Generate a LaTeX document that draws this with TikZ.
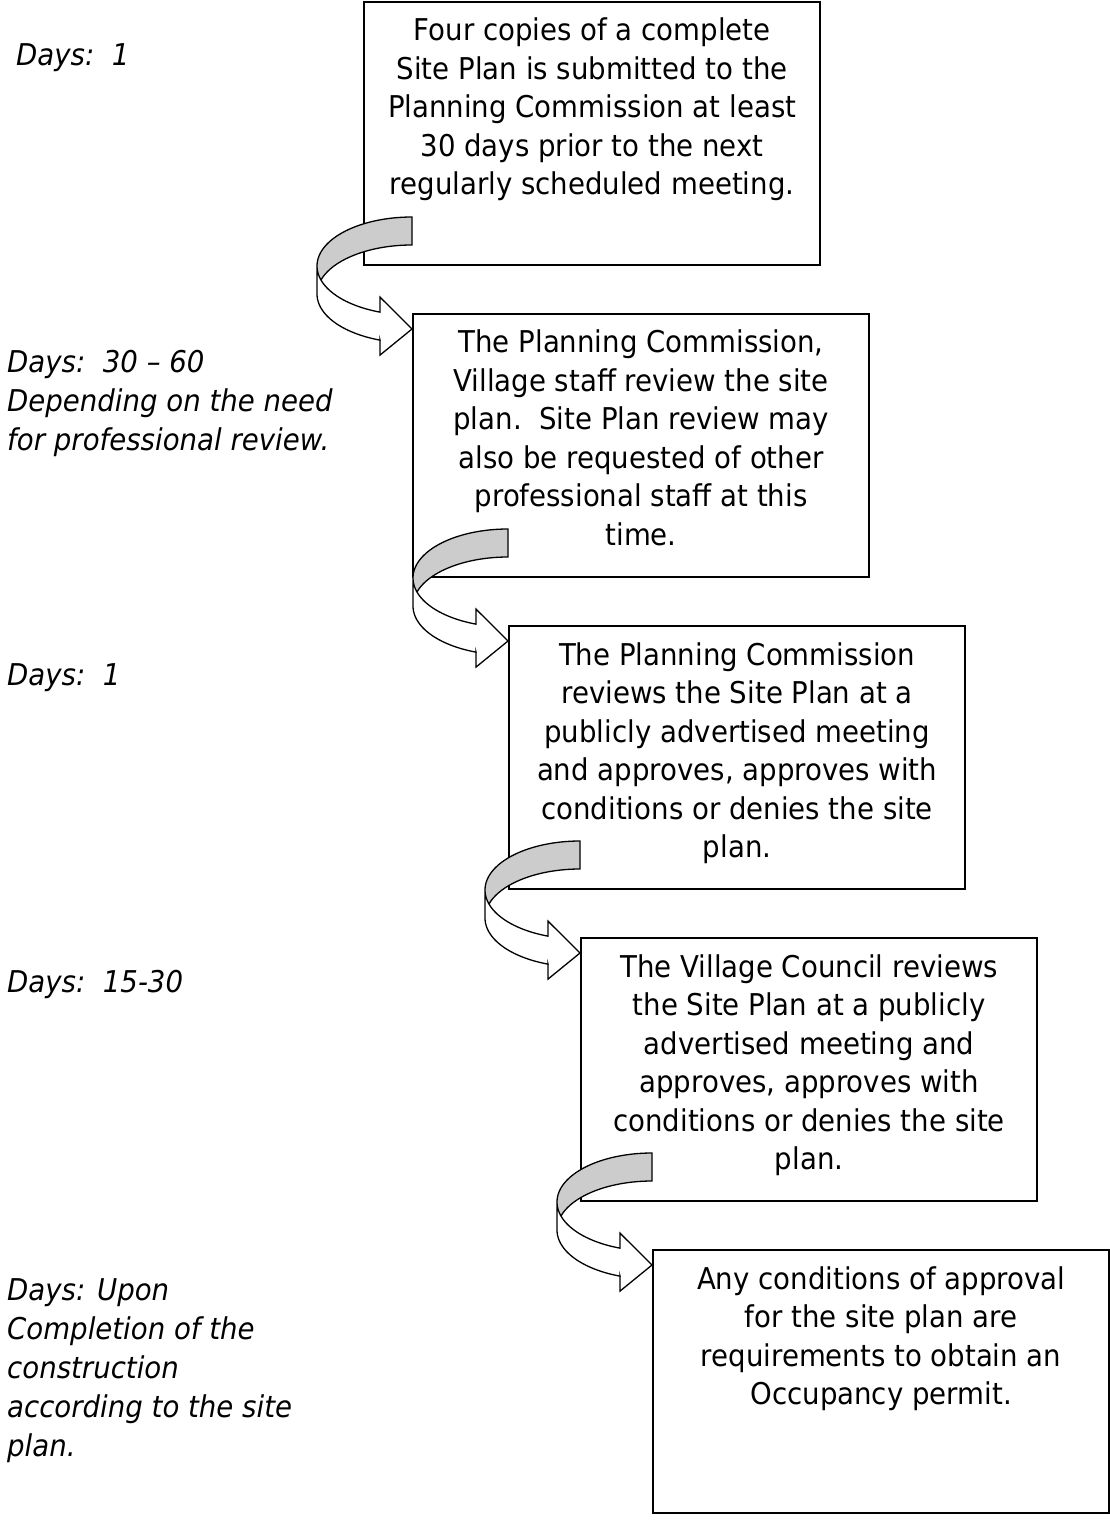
\documentclass[tikz,border=0pt]{standalone}
\usepackage{fontspec}
\setmainfont{DejaVu Sans}[FakeStretch=0.92]
\definecolor{band}{RGB}{204,204,204}
\tikzset{
  box/.style={draw, line width=2.2pt, fill=white, minimum width=456pt, minimum height=263pt, inner sep=0pt, anchor=north west},
  txt/.style={anchor=north, inner sep=0pt, align=center, font=\fontsize{30}{38.5}\selectfont},
  lbl/.style={anchor=north west, inner sep=0pt, align=left, font=\fontsize{30}{39}\selectfont\itshape},
  arrowline/.style={line width=1.3pt, line join=miter},
}
% #1 = right x of the curved arrow, #2 = top y (y grows downwards)
\newcommand\curvedarrowshape[2]{%
  \fill[white] plot[domain=180:109.68, samples=40, variable=\t] ({#1+95*cos(\t)},{#2+49+49*sin(\t)})
    -- (#1-32,#2+80.1) -- (#1,#2+112) -- (#1-32,#2+138.1) -- (#1-32,#2+123.1)
    -- plot[domain=109.68:180, samples=40, variable=\t] ({#1+95*cos(\t)},{#2+77+49*sin(\t)}) -- cycle;
  \fill[band] plot[domain=270:163.4, samples=50, variable=\t] ({#1+95*cos(\t)},{#2+49+49*sin(\t)})
    -- plot[domain=196.6:270, samples=50, variable=\t] ({#1+95*cos(\t)},{#2+77+49*sin(\t)}) -- cycle;
  \draw[arrowline] plot[domain=180:109.68, samples=40, variable=\t] ({#1+95*cos(\t)},{#2+49+49*sin(\t)})
    -- (#1-32,#2+80.1) -- (#1,#2+112) -- (#1-32,#2+138.1) -- (#1-32,#2+123.1)
    -- plot[domain=109.68:180, samples=40, variable=\t] ({#1+95*cos(\t)},{#2+77+49*sin(\t)}) -- cycle;
  \draw[arrowline] plot[domain=180:270, samples=50, variable=\t] ({#1+95*cos(\t)},{#2+49+49*sin(\t)})
    -- (#1,#2+28)
    -- plot[domain=270:196.6, samples=50, variable=\t] ({#1+95*cos(\t)},{#2+77+49*sin(\t)});
}
\begin{document}
\begin{tikzpicture}[x=1pt, y=-1pt]
  \useasboundingbox[fill=white] (0,0) rectangle (1110,1522);

  % boxes
  \node[box] (b1) at (363,1) {};
  \node[box] (b2) at (412,313) {};
  \node[box] (b3) at (508,625) {};
  \node[box] (b4) at (580,937) {};
  \node[box] (b5) at (652,1249) {};

  % box texts
  \node[txt] (t1) at ([yshift=-17pt]b1.north) {Four copies of a complete\\Site Plan is submitted to the\\Planning Commission at least\\30 days prior to the next\\regularly scheduled meeting.};
  \node[txt] (t2) at ([yshift=-17pt]b2.north) {The Planning Commission,\\Village staff review the site\\plan.\ \ Site Plan review may\\also be requested of other\\professional staff at this\\time.};
  \node[txt] (t3) at ([yshift=-17pt]b3.north) {The Planning Commission\\reviews the Site Plan at a\\publicly advertised meeting\\and approves, approves with\\conditions or denies the site\\plan.};
  \node[txt] (t4) at ([yshift=-17pt]b4.north) {The Village Council reviews\\the Site Plan at a publicly\\advertised meeting and\\approves, approves with\\conditions or denies the site\\plan.};
  \node[txt] (t5) at ([yshift=-17pt]b5.north) {Any conditions of approval\\for the site plan are\\requirements to obtain an\\Occupancy permit.};

  % curved arrows
  \curvedarrowshape{412}{217}
  \curvedarrowshape{508}{529}
  \curvedarrowshape{580}{841}
  \curvedarrowshape{652}{1153}

  % left labels
  \node[lbl] (l1) at (16,43) {Days:\ \ 1};
  \node[lbl] (l2) at (7,350) {Days:\ \ 30 – 60\\Depending on the need\\for professional review.};
  \node[lbl] (l3) at (7,663) {Days:\ \ 1};
  \node[lbl] (l4) at (7,970) {Days:\ \ 15-30};
  \node[lbl] (l5) at (7,1278) {Days: Upon\\Completion of the\\construction\\according to the site\\plan.};
\end{tikzpicture}
\end{document}
